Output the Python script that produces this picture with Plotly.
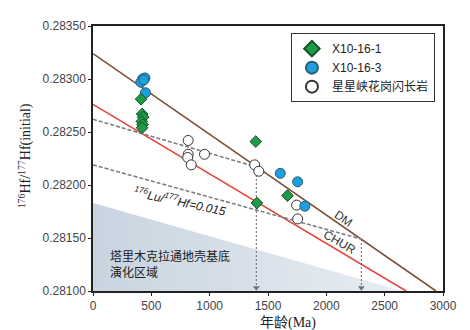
import plotly.graph_objects as go

# Reference lines
dm_age = [0, 2940]
dm_hf = [0.28324, 0.28100]
chur_age = [0, 2684]
chur_hf = [0.28276, 0.28100]
crust1_age = [0, 1400]
crust1_hf = [0.28262, 0.28217]
crust2_age = [0, 2300]
crust2_hf = [0.28219, 0.28149]
shade_age = [0, 2650, 0, 0]
shade_hf = [0.28183, 0.28100, 0.28100, 0.28183]
drop1_age = [1400, 1400]
drop1_hf = [0.28217, 0.28103]
drop2_age = [2300, 2300]
drop2_hf = [0.28149, 0.28103]

# Samples
x1_age = [412, 421, 430, 418, 425, 421, 1395, 1405, 1667]
x1_hf = [0.28281, 0.28267, 0.28264, 0.28260, 0.28257, 0.28254, 0.28241, 0.28183, 0.28190]
x3_age = [425, 445, 410, 435, 450, 1605, 1754, 1816]
x3_hf = [0.28300, 0.28301, 0.28297, 0.28299, 0.28287, 0.28211, 0.28203, 0.28180]
xx_age = [816, 816, 812, 842, 956, 1386, 1421, 1745, 1754]
xx_hf = [0.28242, 0.28229, 0.28226, 0.28219, 0.28229, 0.28219, 0.28213, 0.28181, 0.28168]

xticks = [0, 500, 1000, 1500, 2000, 2500, 3000]
yticks = [0.28100, 0.28150, 0.28200, 0.28250, 0.28300, 0.28350]
ytick_text = ["0.28100", "0.28150", "0.28200", "0.28250", "0.28300", "0.28350"]

fig = go.Figure()

fig.add_trace(go.Scatter(x=shade_age, y=shade_hf, mode="lines", line=dict(width=0),
                         fill="toself",
                         fillgradient=dict(type="horizontal",
                                           colorscale=[[0, "#c8d4e0"], [1, "#e8edf3"]]),
                         hoverinfo="skip", showlegend=False))
fig.add_trace(go.Scatter(x=dm_age, y=dm_hf, mode="lines", line=dict(color="#7a4e33", width=1.6),
                         showlegend=False))
fig.add_trace(go.Scatter(x=chur_age, y=chur_hf, mode="lines", line=dict(color="#e2463c", width=1.6),
                         showlegend=False))
fig.add_trace(go.Scatter(x=crust1_age, y=crust1_hf, mode="lines",
                         line=dict(color="#7a7f86", width=1.6, dash="4px,2px"), showlegend=False))
fig.add_trace(go.Scatter(x=crust2_age, y=crust2_hf, mode="lines",
                         line=dict(color="#7a7f86", width=1.6, dash="4px,2px"), showlegend=False))
for ax_, ay_ in [(drop1_age, drop1_hf), (drop2_age, drop2_hf)]:
    fig.add_trace(go.Scatter(x=ax_, y=ay_, mode="lines",
                             line=dict(color="#6f747a", width=1.1, dash="2px,2px"), showlegend=False))
    fig.add_trace(go.Scatter(x=[ax_[1]], y=[ay_[1]], mode="markers",
                             marker=dict(symbol="triangle-down", size=6, color="#6f747a"),
                             showlegend=False))

fig.add_trace(go.Scatter(x=xx_age, y=xx_hf, mode="markers", name="星星峡花岗闪长岩",
                         marker=dict(symbol="circle", size=10, color="white",
                                     line=dict(color="#333333", width=1))))
fig.add_trace(go.Scatter(x=x3_age, y=x3_hf, mode="markers", name="X10-16-3",
                         marker=dict(symbol="circle", size=10, color="#1ca0dc",
                                     line=dict(color="#2a5a7a", width=1))))
fig.add_trace(go.Scatter(x=x1_age, y=x1_hf, mode="markers", name="X10-16-1",
                         marker=dict(symbol="diamond", size=9, color="#1f9a45",
                                     line=dict(color="#14502a", width=1))))

fig.update_layout(
    width=462, height=322,
    margin=dict(l=85, r=27, t=18, b=39),
    paper_bgcolor="white", plot_bgcolor="white",
    font=dict(family="Liberation Sans, Arial, sans-serif", size=12, color="#333333"),
    showlegend=True,
    legend=dict(x=0.977, y=0.973, xanchor="right", yanchor="top",
                bordercolor="#333333", borderwidth=1, bgcolor="white",
                traceorder="reversed", itemsizing="constant", itemwidth=30,
                font=dict(family="Liberation Sans, Noto Sans CJK SC, sans-serif", size=12, color="#222222"),
                tracegroupgap=0),
    xaxis=dict(range=[0, 3000], tickvals=xticks, showgrid=False, zeroline=False,
               showline=True, linecolor="#222222", linewidth=1.5, mirror=True,
               ticks="outside", ticklen=3, tickcolor="#222222",
               tickfont=dict(size=12, color="#444444")),
    yaxis=dict(range=[0.28100, 0.28350], tickvals=yticks, ticktext=ytick_text,
               showgrid=False, zeroline=False,
               showline=True, linecolor="#222222", linewidth=1.5, mirror=True,
               ticks="outside", ticklen=3, tickcolor="#222222",
               tickfont=dict(size=12, color="#444444")),
)

annotations = [
    dict(x=2150, y=0.28168, text="DM", textangle=34, showarrow=False,
         font=dict(size=12, color="#333333")),
    dict(x=2110, y=0.28146, text="CHUR", textangle=30, showarrow=False,
         font=dict(size=12, color="#333333")),
    dict(x=745, y=0.28185, text="<i><sup>176</sup>Lu/<sup>177</sup>Hf=0.015</i>", textangle=12,
         showarrow=False, font=dict(size=12, color="#222222")),
    dict(x=125, y=0.28126, text="塔里木克拉通地壳基底<br>演化区域", showarrow=False,
         xanchor="left", yanchor="middle", align="left",
         font=dict(family="Noto Sans CJK SC", size=12, color="#222222")),
    dict(xref="paper", yref="paper", x=0.558, y=-0.122, text="年龄(Ma)", showarrow=False,
         xanchor="center", yanchor="middle",
         font=dict(family="Liberation Serif, Noto Sans CJK SC, serif", size=14, color="#222222")),
    dict(xref="paper", yref="paper", x=-0.193, y=0.51,
         text="<sup>176</sup>Hf/<sup>177</sup>Hf(initial)", textangle=-90, showarrow=False,
         xanchor="center", yanchor="middle",
         font=dict(family="Liberation Serif, serif", size=14, color="#222222")),
]
fig.update_layout(annotations=annotations)

fig.write_html("out.html")
